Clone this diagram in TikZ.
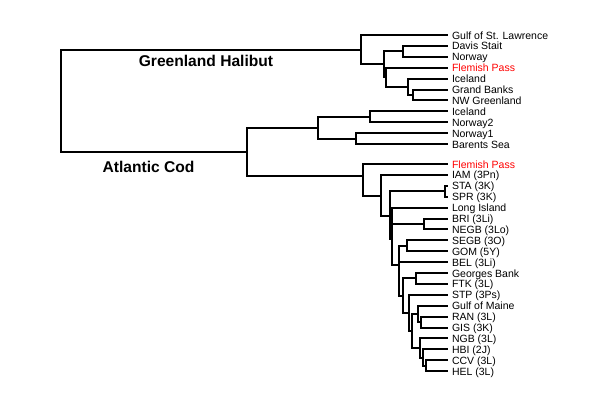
\documentclass[tikz,border=0pt]{standalone}
\usepackage{fontspec}
\setmainfont{Liberation Sans}
\begin{document}
\begin{tikzpicture}[x=1pt,y=-1pt,line width=2pt,line join=miter,
  lab/.style={font=\fontsize{10.5}{12}\selectfont,inner sep=0pt,anchor=base west},
  redlab/.style={lab,text=red},
  grp/.style={font=\bfseries\fontsize{15.6}{18}\selectfont,inner sep=0pt,anchor=base}]
\useasboundingbox[fill=white] (0,0) rectangle (600,399);
% leaf ends and labels
\foreach \n/\yy/\t/\s in {
  a0/35/Gulf of St. Lawrence/lab, a1/45.9/Davis Stait/lab, a2/56.8/Norway/lab,
  a3/67.7/Flemish Pass/redlab, a4/78.6/Iceland/lab, a5/89.5/Grand Banks/lab,
  a6/100.4/NW Greenland/lab, a7/111.3/Iceland/lab, a8/122.2/Norway2/lab,
  a9/133.1/Norway1/lab, a10/144/Barents Sea/lab,
  b0/164/Flemish Pass/redlab, b1/174.9/IAM (3Pn)/lab, b2/185.8/STA (3K)/lab,
  b3/196.7/SPR (3K)/lab, b4/207.6/Long Island/lab, b5/218.5/BRI (3Li)/lab,
  b6/229.4/NEGB (3Lo)/lab, b7/240.3/SEGB (3O)/lab, b8/251.2/GOM (5Y)/lab,
  b9/262.1/BEL (3Li)/lab, b10/273/Georges Bank/lab, b11/283.9/FTK (3L)/lab,
  b12/294.8/STP (3Ps)/lab, b13/305.7/Gulf of Maine/lab, b14/316.6/RAN (3L)/lab,
  b15/327.5/GIS (3K)/lab, b16/338.4/NGB (3L)/lab, b17/349.3/HBI (2J)/lab,
  b18/360.2/CCV (3L)/lab, b19/371.1/HEL (3L)/lab}{
  \coordinate (\n) at (448,\yy);
  \node[\s] (t\n) at ([xshift=3pt,yshift=-4pt]\n) {\t};
}
% internal nodes
\coordinate (nroot) at (61,100);
\coordinate (nhal) at (361,49.6);
\coordinate (nh2) at (384,64.3);
\coordinate (ndn) at (403,51.35);
\coordinate (nh3) at (386,77.2);
\coordinate (nh4) at (408,86.8);
\coordinate (nh5) at (413,94.95);
\coordinate (ncod) at (247,151.8);
\coordinate (nx1) at (318,127.6);
\coordinate (np) at (370,116.75);
\coordinate (nq) at (356,138.55);
\coordinate (ny) at (363,176);
\coordinate (nA) at (381,195.5);
\coordinate (nB) at (390,215.5);
\coordinate (nS) at (445,191.25);
\coordinate (nC) at (392,239);
\coordinate (nBN) at (424,223.95);
\coordinate (nD) at (399,265);
\coordinate (nSG) at (407,245.75);
\coordinate (nM) at (403,295.7);
\coordinate (nGB) at (416,278.45);
\coordinate (nSTP) at (409,312.9);
\coordinate (nlow) at (412,331);
\coordinate (nGoM) at (418,313.9);
\coordinate (nRG) at (421,322.05);
\coordinate (nNGB) at (420,348);
\coordinate (nHBI) at (423,357.5);
\coordinate (nHC) at (426,365.65);
% connectors
\foreach \p/\c in {nroot/nhal, nroot/ncod,
  nhal/a0, nhal/nh2, nh2/ndn, nh2/nh3, ndn/a1, ndn/a2, nh3/a3, nh3/nh4,
  nh4/a4, nh4/nh5, nh5/a5, nh5/a6,
  ncod/nx1, ncod/ny, nx1/np, nx1/nq, np/a7, np/a8, nq/a9, nq/a10,
  ny/b0, ny/nA, nA/b1, nA/nB, nB/nS, nB/nC, nS/b2, nS/b3,
  nC/b4, nC/nBN, nC/nD, nBN/b5, nBN/b6,
  nD/nSG, nD/b9, nD/nM, nSG/b7, nSG/b8,
  nM/nGB, nM/nSTP, nGB/b10, nGB/b11,
  nSTP/b12, nSTP/nlow, nlow/nGoM, nlow/nNGB,
  nGoM/b13, nGoM/nRG, nRG/b14, nRG/b15,
  nNGB/b16, nNGB/nHBI, nHBI/b17, nHBI/nHC, nHC/b18, nHC/b19}{
  \draw (\p) |- (\c);
}
% group labels
\node[grp] (ghal) at (206,66) {Greenland Halibut};
\node[grp] (gcod) at (148.5,172) {Atlantic Cod};
\end{tikzpicture}
\end{document}
